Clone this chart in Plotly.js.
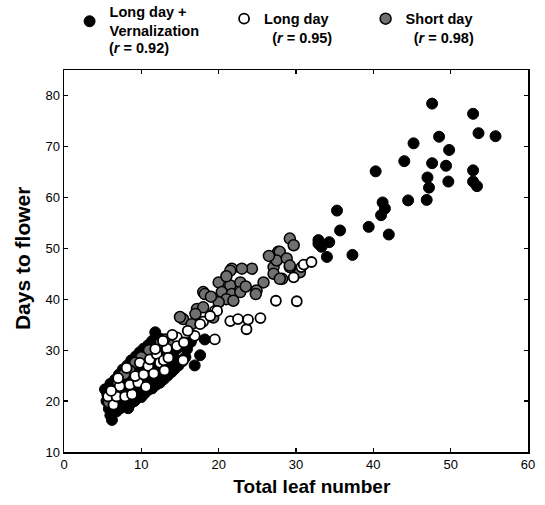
<!DOCTYPE html>
<html>
<head>
<meta charset="utf-8">
<script src="https://cdn.plot.ly/plotly-3.0.1.min.js"></script>
<style>html,body{margin:0;padding:0;background:#fff;}#chart{width:545px;height:505px;}</style>
</head>
<body>
<div id="chart"></div>
<script>
// Long day + Vernalization (filled black)
const ldvX = [47.6,52.9,53.6,55.8,48.5,45.2,49.8,44.0,47.6,49.4,40.3,52.9,47.0,49.7,52.9,47.2,53.4,44.5,46.9,41.2,41.5,41.0,35.3,39.4,35.7,42.0,32.9,34.3,33.3,37.3,34.0,32.9,
  6.2,6.0,6.5,5.8,6.8,7.3,7.8,8.3,8.6,9.1,9.5,10.0,10.4,10.9,11.4,11.9,12.4,12.9,13.4,13.9,14.3,14.8,15.3,15.7,5.5,5.6,5.3,6.0,6.6,7.1,7.6,8.2,8.7,9.3,9.8,10.3,10.9,11.4,11.8,12.5,13.0,
  6.8,7.4,8.0,8.8,9.4,10.1,10.8,11.5,12.2,12.9,13.6,14.3,14.7,7.0,8.1,9.0,9.9,10.6,11.3,12.0,12.7,13.3,6.4,7.7,8.4,9.0,9.6,10.4,11.1,15.9,16.9,17.6,18.2,16.4,14.5,12.3];
const ldvY = [78.4,76.4,72.6,72.0,71.9,70.6,69.3,67.1,66.7,66.2,65.1,65.3,63.9,63.1,63.1,61.9,62.2,59.4,59.5,59.0,57.8,56.5,57.4,54.2,53.5,52.7,51.6,51.2,50.3,48.7,48.3,50.9,
  16.3,17.2,17.8,18.5,18.0,18.6,19.0,18.6,19.5,20.0,20.6,20.8,21.5,22.2,22.5,23.2,23.6,24.3,25.0,25.7,26.3,27.0,27.8,28.6,20.0,21.3,22.3,23.4,24.2,25.2,26.2,27.0,28.0,28.8,29.6,30.3,31.0,31.8,33.5,32.2,31.3,
  21.0,22.0,22.6,23.8,24.6,25.6,26.3,27.2,28.3,29.0,29.6,28.5,30.4,19.8,20.6,21.8,22.7,23.6,24.5,25.5,26.6,27.4,22.3,23.8,25.0,26.4,27.2,28.5,29.4,30.2,27.0,29.0,32.1,31.6,32.0,30.7];

// Long day (open)
const ldX = [6.4,5.7,6.8,7.9,8.8,7.2,8.5,9.6,8.1,9.2,10.3,9.8,10.9,11.1,12.0,11.8,12.4,6.1,7.0,10.6,11.6,12.9,13.3,13.0,13.5,14.6,14.6,15.4,16.9,18.0,19.5,19.5,19.8,18.9,17.6,21.5,22.5,23.6,23.8,25.4,27.4,30.1,29.7,30.7,31.0,32.0,15.5,12.8,16.0,14.0];
const ldY = [19.3,20.9,20.9,20.9,21.3,22.9,23.2,23.6,26.5,24.9,25.2,27.5,26.9,28.2,29.2,30.2,27.5,22.0,24.5,22.8,25.4,28.0,30.3,26.0,28.5,32.5,30.8,28.0,32.8,35.6,37.7,32.1,37.7,36.7,35.1,35.7,36.1,34.1,36.0,36.3,39.7,39.6,44.3,46.3,46.8,47.3,31.5,31.8,33.8,33.0];

// Short day (grey)
const sdX = [27.7,27.1,29.2,30.5,28.2,25.8,24.9,24.8,24.3,29.2,29.7,27.9,27.5,21.7,23.0,27.1,27.9,21.5,20.0,21.5,22.8,20.4,21.7,22.8,21.0,21.9,18.0,20.0,17.2,18.0,17.0,15.4,16.5,19.3,18.2,13.1,26.5,28.8,23.5,12.5,11.0,10.0,9.2,8.5,7.8,7.0,6.3,5.8,14.2,19.0,21.0,15.0,29.2];
const sdY = [49.3,46.3,46.3,45.3,44.0,43.3,41.7,41.0,46.0,51.9,50.6,49.3,47.6,46.0,46.0,45.0,44.0,45.6,43.3,42.7,43.3,41.4,41.0,41.4,40.0,39.7,41.4,39.4,38.1,38.4,37.1,36.1,35.1,36.4,41.0,32.1,48.5,48.0,42.5,31.5,30.0,28.6,27.5,26.0,25.3,23.6,21.5,19.8,31.2,40.5,44.5,36.5,46.6];

const legendFont = {family: 'Liberation Sans, Arial, sans-serif', size: 14.5, color: '#000', weight: 'bold'};

const traces = [
  {x: ldvX, y: ldvY, type: 'scatter', mode: 'markers', name: 'Long day +<br>Vernalization', legend: 'legend',
   marker: {size: 11, color: '#000', line: {color: '#000', width: 1}}},
  {x: sdX, y: sdY, type: 'scatter', mode: 'markers', name: 'Short day<br>&nbsp;&nbsp;(<i>r</i> = 0.98)', legend: 'legend3',
   marker: {size: 11, color: '#707070', line: {color: '#000', width: 1.5}}},
  {x: ldX, y: ldY, type: 'scatter', mode: 'markers', name: 'Long day<br>&nbsp;&nbsp;(<i>r</i> = 0.95)', legend: 'legend2',
   marker: {size: 10, color: '#fff', line: {color: '#000', width: 1.8}}}
];

const legBase = {orientation: 'v', xanchor: 'left', yanchor: 'top', bgcolor: 'rgba(0,0,0,0)', font: legendFont, valign: 'top', itemwidth: 30, tracegroupgap: 0};

const layout = {
  width: 545, height: 505,
  margin: {l: 64, r: 17, t: 70, b: 53, autoexpand: false},
  paper_bgcolor: '#fff', plot_bgcolor: '#fff',
  font: {family: 'Liberation Sans, Arial, sans-serif', color: '#000'},
  showlegend: true,
  legend: Object.assign({}, legBase, {x: 0.012, y: 1.194, valign: 'middle'}),
  legend2: Object.assign({}, legBase, {x: 0.345, y: 1.176}),
  legend3: Object.assign({}, legBase, {x: 0.65, y: 1.176}),
  annotations: [
    {text: '(<i>r</i> = 0.92)', xref: 'paper', yref: 'paper', x: 0.093, y: 1.058, xanchor: 'left', yanchor: 'middle',
     showarrow: false, font: legendFont},
    {text: 'Days to flower', xref: 'paper', yref: 'paper', x: -0.088, y: 0.508, xanchor: 'center', yanchor: 'middle',
     textangle: -90, showarrow: false, font: {family: 'Liberation Sans, Arial, sans-serif', size: 21, color: '#000', weight: 'bold'}}
  ],
  xaxis: {
    range: [0, 60], dtick: 10, tick0: 0,
    ticks: 'inside', ticklen: 4, tickwidth: 1.2, tickcolor: '#000',
    showline: true, linecolor: '#000', linewidth: 1.5, mirror: 'ticks',
    showgrid: false, zeroline: false,
    tickfont: {size: 13, color: '#000'},
    title: {text: '&nbsp;&nbsp;&nbsp;&nbsp;&nbsp;&nbsp;Total leaf number', font: {size: 19, color: '#000', weight: 'bold'}, standoff: 8}
  },
  yaxis: {
    range: [10, 85], dtick: 10, tick0: 10,
    ticks: 'inside', ticklen: 4, tickwidth: 1.2, tickcolor: '#000',
    showline: true, linecolor: '#000', linewidth: 1.5, mirror: 'ticks',
    showgrid: false, zeroline: false,
    tickfont: {size: 13, color: '#000'}
  }
};

Plotly.newPlot('chart', traces, layout, {displayModeBar: false, staticPlot: true});
</script>
</body>
</html>
